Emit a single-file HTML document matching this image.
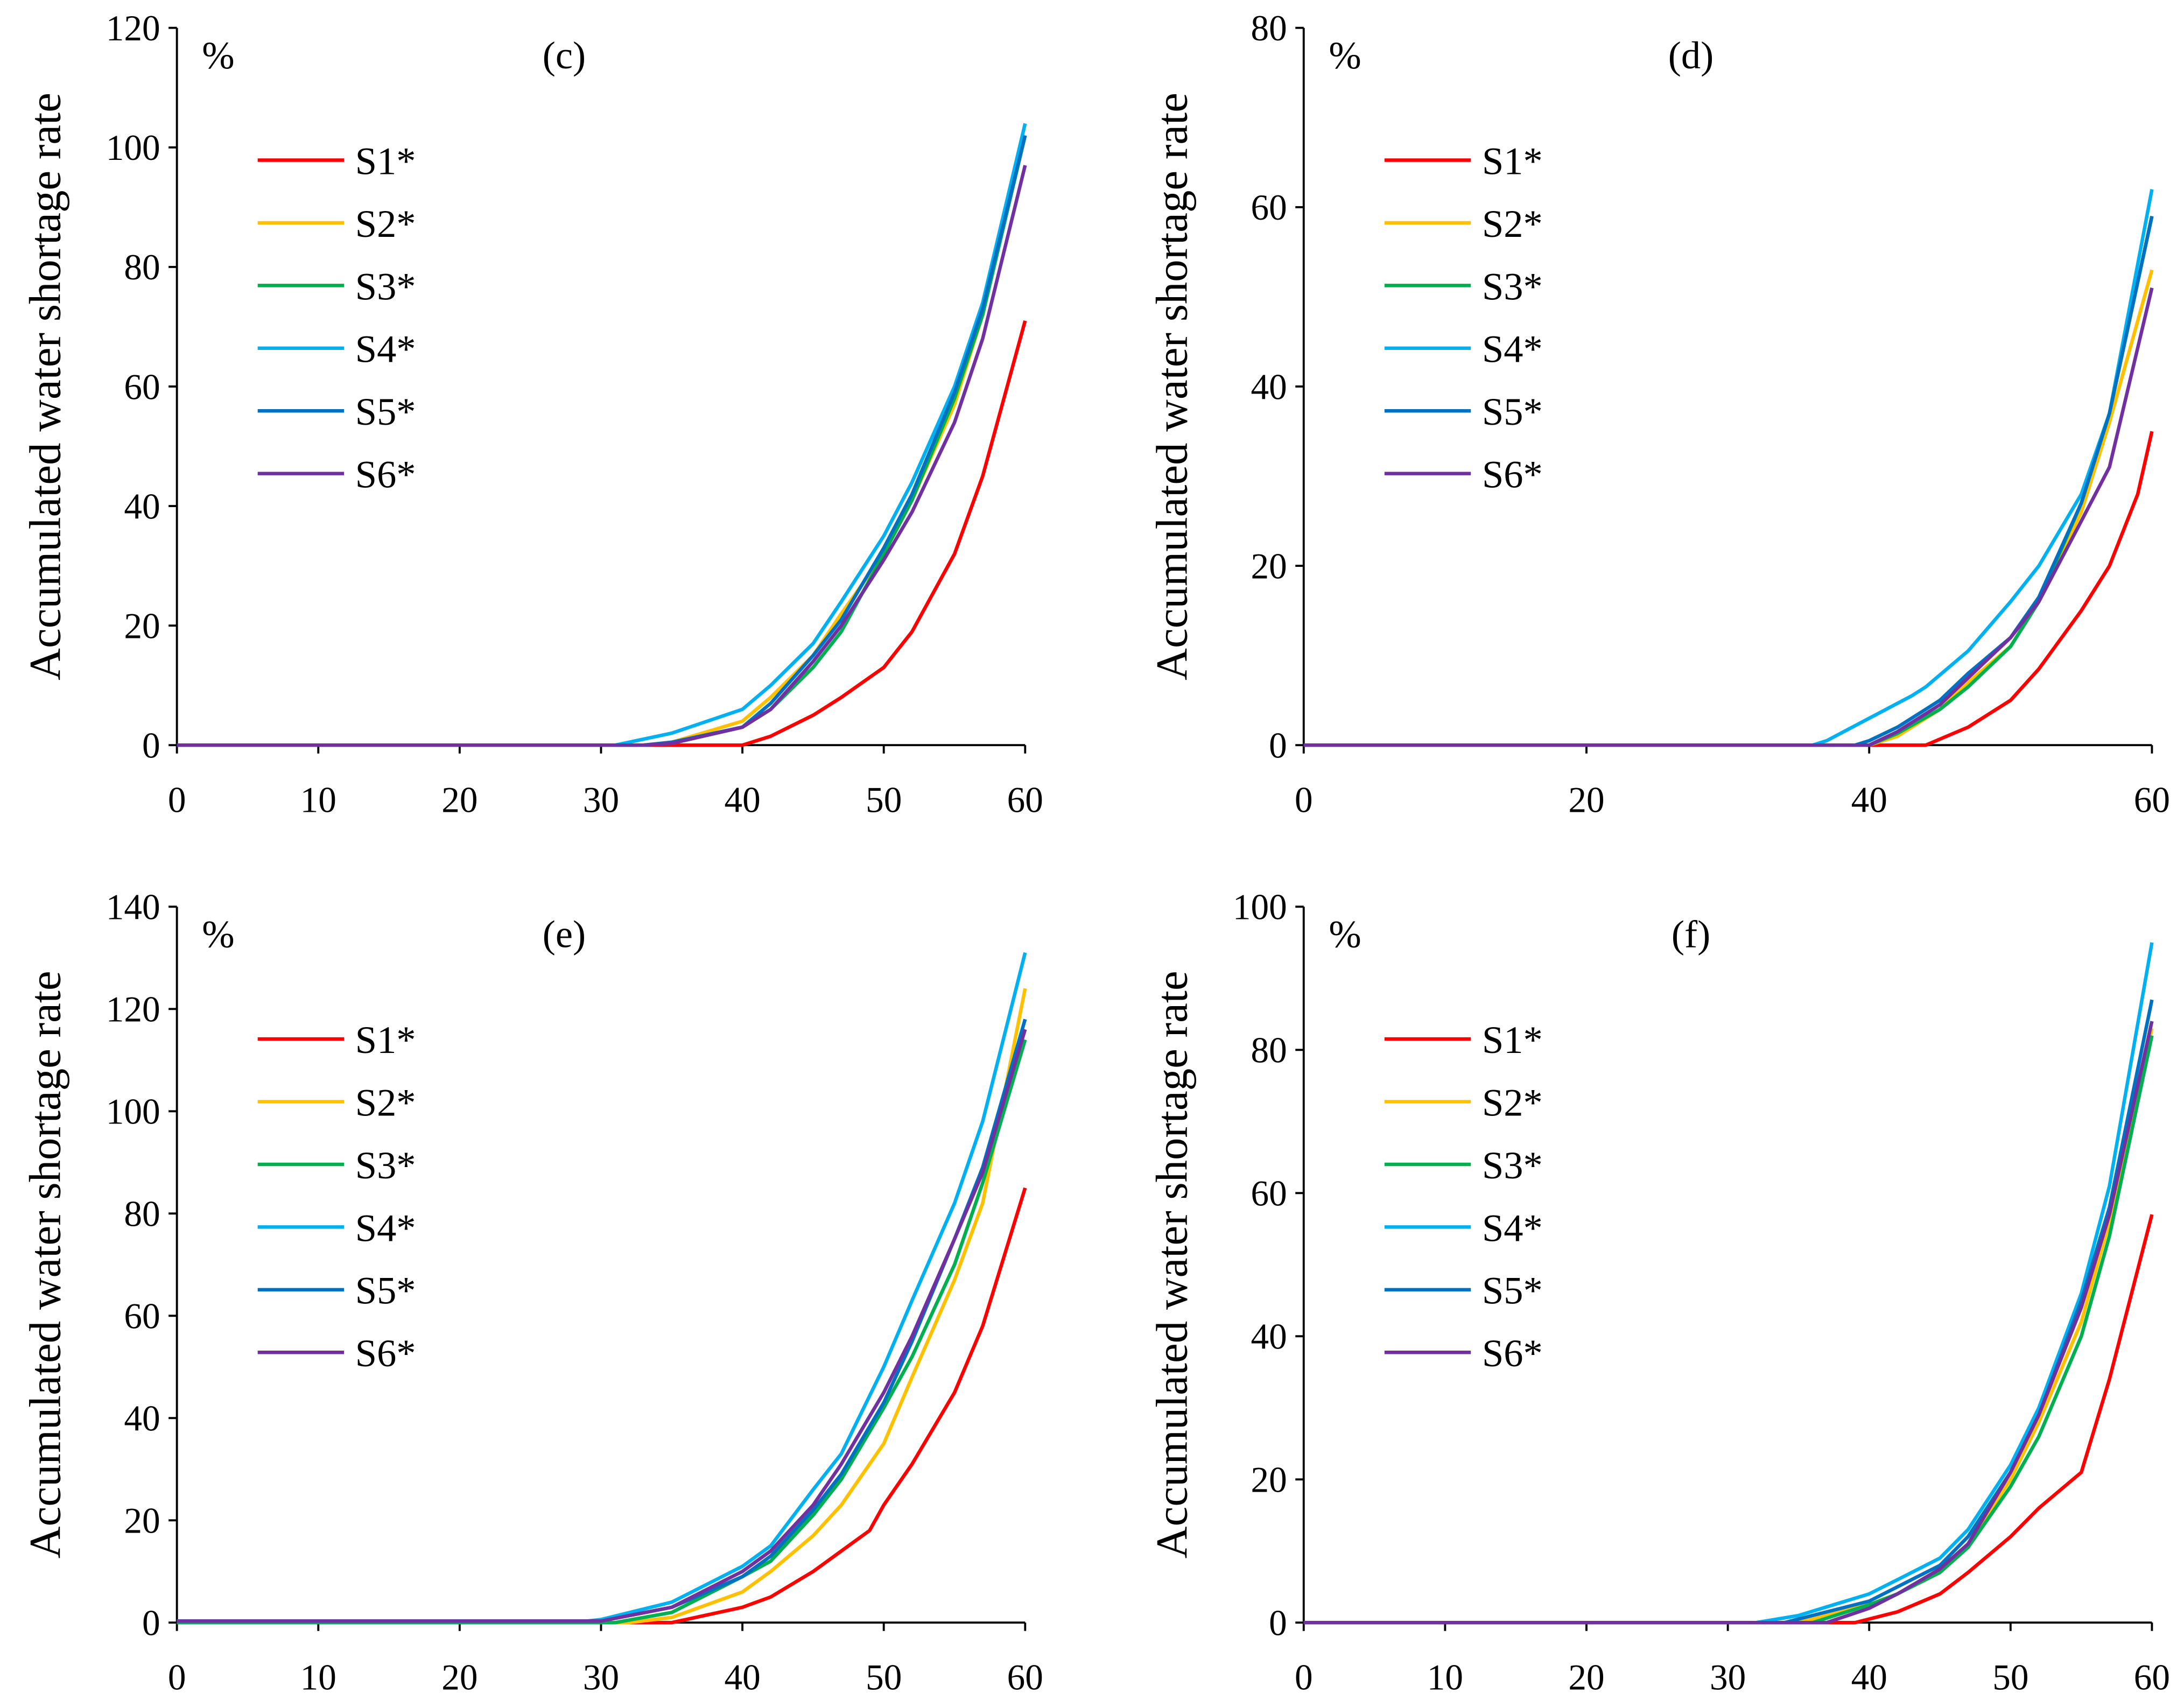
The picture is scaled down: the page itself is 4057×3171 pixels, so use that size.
<!DOCTYPE html>
<html><head><meta charset="utf-8"><style>
html,body{margin:0;padding:0;background:#fff;}
svg{display:block;font-family:"Liberation Serif","Times New Roman",serif;}
</style></head><body>
<svg id="chart" width="4057" height="3171" viewBox="0 0 1568 1225.6" xmlns="http://www.w3.org/2000/svg"></svg>
<script>
const seriesNames = ["S1*","S2*","S3*","S4*","S5*","S6*"];
const seriesColors = ["#ff0000","#ffc000","#00b050","#00b0f0","#0070c0","#7030a0"];

// Panel (c)
const cX = [[0,40,42,45,47,50,52,55,57,60],[0,33,35,40,42,45,47,50,52,55,57,60],[0,33,35,40,42,45,47,50,52,55,57,60],[0,31,35,40,42,45,47,50,52,55,57,60],[0,33,35,40,42,45,47,50,52,55,57,60],[0,33,35,40,42,45,47,50,52,55,57,60]];
const cY = [[0,0,1.5,5,8,13,19,32,45,71],[0,0,0.5,4,8,15,22,32,41,57,72,102],[0,0,0.3,3,6,13,19,32,41,58,72,102],[0,0,2,6,10,17,24,35,44,60,74,104],[0,0,0.5,3,7,15,21,33,42,59,73,102],[0,0,0.3,3,6,14,20,31,39,54,68,97]];
// Panel (d)
const dX = [[0,44,47,50,52,55,57,59,60],[0,40,42,45,47,50,52,55,57,60],[0,40,42,45,47,50,52,55,57,60],[0,36,37,40,43,44,47,50,52,55,57,60],[0,39,40,42,45,47,50,52,55,57,60],[0,40,42,45,47,50,52,55,57,60]];
const dY = [[0,0,2,5,8.5,15,20,28,35],[0,0,1,4,7,11,16,26,36,53],[0,0,1.3,4,6.5,11,16,27,37,59],[0,0,0.5,3,5.5,6.5,10.5,16,20,28,37,62],[0,0,0.5,2,5,8,12,16.5,27,37,59],[0,0,1.5,4.5,7.5,12,16,25,31,51]];
// Panel (e)
const eX = [[0,35,40,42,45,47,49,50,52,55,57,60],[0,32,35,40,42,45,47,50,52,55,57,60],[0,31,35,40,42,45,47,50,52,55,57,60],[0,29,30,35,40,42,45,47,50,52,55,57,60],[0,30,35,40,42,45,47,50,52,55,57,60],[0,30,35,40,42,45,47,50,52,55,57,60]];
const eY = [[0,0,3,5,10,14,18,23,31,45,58,85],[0,0,1,6,10,17,23,35,48,67,82,124],[0,0,2,9,12,21,28,42,52,70,86,114],[0.3,0.3,0.6,4,11,15,26,33,50,63,82,98,131],[0.3,0.3,3,9,13,22,29,43,55,75,89,118],[0.3,0.3,3,10,14,23,31,45,56,75,88,116]];
// Panel (f)
const fX = [[0,39,42,45,47,50,52,55,57,60],[0,35,40,42,45,47,50,52,55,57,60],[0,36,40,42,45,47,50,52,55,57,60],[0,32,35,40,42,45,47,50,52,55,57,60],[0,34,40,42,45,47,50,52,55,57,60],[0,37,40,42,45,47,50,52,55,57,60]];
const fY = [[0,0,1.5,4,7,12,16,21,34,57],[0,0,2.5,4,7.5,11,20,28,42,56,83],[0,0,2.5,4,7,10.5,19,26,40,54,82],[0,0,1,4,6,9,13,22,30,46,61,95],[0,0,3,5,8,12,21,29,45,58,87],[0,0,2,4,7.5,11,21,29,44,57,84]];

const cYTicks = [0,20,40,60,80,100,120];
const dYTicks = [0,20,40,60,80];
const eYTicks = [0,20,40,60,80,100,120,140];
const fYTicks = [0,20,40,60,80,100];
const xTicks10 = [0,10,20,30,40,50,60];
const xTicks20 = [0,20,40,60];

const NS="http://www.w3.org/2000/svg";
const svg=document.getElementById('chart');
function mk(tag,attrs,parent){const e=document.createElementNS(NS,tag);for(const k in attrs)e.setAttribute(k,attrs[k]);parent.appendChild(e);return e;}

function panel(key,label,x0,x1,y0,y1,yTicks,xTicks,xs,ys){
  const g=mk('g',{},svg);
  
  
  const yMax=yTicks[yTicks.length-1];
  const sx=v=>x0+(v/60)*(x1-x0);
  const sy=v=>y0-(v/yMax)*(y0-y1);
  const ya=mk('line',{x1:x0,y1:y1,x2:x0,y2:y0,stroke:'#000','stroke-width':1.5},g);
  
  
  const xa=mk('line',{x1:x0,y1:y0,x2:x1,y2:y0,stroke:'#000','stroke-width':1.5},g);
  
  
  yTicks.forEach(t=>{
    mk('line',{x1:x0-6,y1:sy(t),x2:x0,y2:sy(t),stroke:'#000','stroke-width':1.5},g);
    const tx=mk('text',{x:x0-12,y:sy(t)+9,'text-anchor':'end','font-size':26},g);
    tx.textContent=t;
    
    
  });
  xTicks.forEach(t=>{
    mk('line',{x1:sx(t),y1:y0,x2:sx(t),y2:y0+6,stroke:'#000','stroke-width':1.5},g);
    const tx=mk('text',{x:sx(t),y:y0+48,'text-anchor':'middle','font-size':26},g);
    tx.textContent=t;
    
    
  });
  const yt=mk('text',{x:0,y:0,'text-anchor':'middle','font-size':32,transform:`translate(${x0-84},${(y0+y1)/2}) rotate(-90)`},g);
  yt.textContent='Accumulated water shortage rate';
  
  
  const pc=mk('text',{x:x0+18,y:y1+29,'font-size':28},g);
  pc.textContent='%';
  
  
  const pl=mk('text',{x:x0+278,y:y1+29,'text-anchor':'middle','font-size':28},g);
  pl.textContent=label;
  
  
  for(let i=0;i<6;i++){
    const pts=xs[i].map((v,j)=>sx(v).toFixed(1)+','+sy(ys[i][j]).toFixed(1)).join(' ');
    const pline=mk('polyline',{points:pts,fill:'none',stroke:seriesColors[i],'stroke-width':2.5,'stroke-linejoin':'round'},g);
    
    
    const ly=y1+95+i*45;
    const lg=mk('g',{},g);
    
    
    mk('line',{x1:x0+58,y1:ly,x2:x0+120,y2:ly,stroke:seriesColors[i],'stroke-width':2.5},lg);
    const lt=mk('text',{x:x0+128,y:ly+10,'font-size':28},lg);
    lt.textContent=seriesNames[i];
  }
}
panel('c','(c)',127,736,535,20,cYTicks,xTicks10,cX,cY);
panel('d','(d)',936,1545,535,20,dYTicks,xTicks20,dX,dY);
panel('e','(e)',127,736,1165,651,eYTicks,xTicks10,eX,eY);
panel('f','(f)',936,1545,1165,651,fYTicks,xTicks10,fX,fY);
</script>
</body></html>
